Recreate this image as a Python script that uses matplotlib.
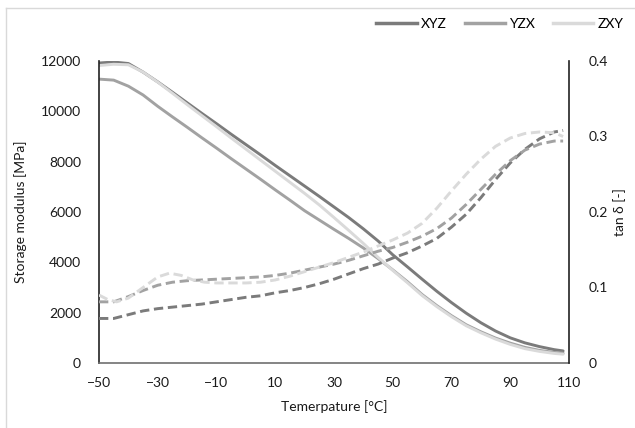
import matplotlib
matplotlib.use("Agg")
import matplotlib.pyplot as plt
from matplotlib.lines import Line2D

plt.rcParams['font.family'] = ['Lato', 'DejaVu Sans']

# Temperature grid [°C]
temp = [-50, -45, -40, -35, -30, -25, -20, -15, -10, -5, 0, 5, 10, 15, 20, 25, 30,
        35, 40, 45, 50, 55, 60, 65, 70, 75, 80, 85, 90, 95, 100, 105, 108]

# Storage modulus [MPa]
e_xyz = [11920, 11960, 11900, 11560, 11170, 10760, 10340, 9920, 9510, 9090, 8680, 8270,
         7850, 7440, 7030, 6620, 6200, 5780, 5330, 4850, 4300, 3820, 3330, 2850, 2400,
         1980, 1600, 1270, 1000, 800, 650, 530, 480]
e_yzx = [11280, 11240, 11000, 10650, 10200, 9780, 9370, 8950, 8540, 8120, 7710, 7300,
         6880, 6470, 6050, 5680, 5310, 4950, 4570, 4150, 3700, 3230, 2720, 2280, 1880,
         1520, 1240, 990, 790, 620, 500, 420, 390]
e_zxy = [11820, 11870, 11850, 11560, 11160, 10720, 10270, 9830, 9390, 8940, 8500, 8060,
         7620, 7180, 6740, 6280, 5780, 5270, 4750, 4200, 3680, 3190, 2680, 2240, 1840,
         1480, 1200, 950, 740, 570, 460, 380, 350]

# tan delta [-]
tan_xyz = [0.059, 0.059, 0.064, 0.069, 0.072, 0.074, 0.076, 0.078, 0.081, 0.084, 0.087,
           0.089, 0.093, 0.096, 0.100, 0.105, 0.111, 0.118, 0.125, 0.131, 0.139, 0.146,
           0.155, 0.165, 0.180, 0.197, 0.219, 0.243, 0.265, 0.283, 0.297, 0.306, 0.308]
tan_yzx = [0.081, 0.081, 0.088, 0.096, 0.103, 0.107, 0.109, 0.110, 0.111, 0.112, 0.113,
           0.114, 0.116, 0.119, 0.123, 0.127, 0.131, 0.136, 0.142, 0.148, 0.153, 0.160,
           0.168, 0.178, 0.192, 0.210, 0.230, 0.250, 0.268, 0.282, 0.290, 0.294, 0.294]
temp_zxy_tan = [-50, -47, -44, -40, -35, -30, -26, -22, -18, -14, -10, -5, 0, 5, 10, 15,
                20, 25, 30, 35, 40, 45, 50, 55, 60, 65, 70, 75, 80, 85, 90, 95, 100, 105, 108]
tan_zxy = [0.090, 0.084, 0.081, 0.086, 0.100, 0.114, 0.119, 0.116, 0.110, 0.107, 0.106,
           0.106, 0.106, 0.107, 0.110, 0.115, 0.121, 0.127, 0.133, 0.140, 0.147, 0.155,
           0.163, 0.172, 0.185, 0.205, 0.228, 0.250, 0.270, 0.287, 0.298, 0.304, 0.306,
           0.305, 0.300]

labels = ['XYZ', 'YZX', 'ZXY']
colors = ['#7b7b7b', '#a2a2a2', '#dadada']

fig = plt.figure(figsize=(6.35, 4.28), dpi=100)
ax = fig.add_axes([99/635, 1-363/428, 470/635, 302/428])
ax2 = ax.twinx()

lw = 2.1
for y, c, l in zip([e_xyz, e_yzx, e_zxy], colors, labels):
    ax.plot(temp, y, color=c, lw=lw, label=l, solid_capstyle='round',
            solid_joinstyle='round')
dash = (0, (3.2, 1.6))
ax2.plot(temp, tan_xyz, color=colors[0], lw=lw, ls=dash)
ax2.plot(temp, tan_yzx, color=colors[1], lw=lw, ls=dash)
ax2.plot(temp_zxy_tan, tan_zxy, color=colors[2], lw=lw, ls=dash)

ax.set_xlim(-50, 110)
ax.set_ylim(0, 12000)
ax2.set_ylim(0, 0.4)
ax.set_xticks(range(-50, 111, 20))
ax.set_yticks(range(0, 12001, 2000))
ax2.set_yticks([0, 0.1, 0.2, 0.3, 0.4])
ax2.set_yticklabels(['0', '0.1', '0.2', '0.3', '0.4'])

for a in (ax, ax2):
    a.tick_params(length=0, labelsize=10, colors='#1a1a1a')
    a.spines['top'].set_visible(False)
ax.tick_params(axis='y', pad=13)
ax.tick_params(axis='x', pad=10)
ax2.tick_params(axis='y', pad=14)
ax.spines['left'].set_color('#222222')
ax.spines['bottom'].set_color('#707070')
ax2.spines['right'].set_color('#222222')
ax2.spines['left'].set_visible(False)
ax2.spines['bottom'].set_visible(False)
for s in ('left', 'bottom'):
    ax.spines[s].set_linewidth(1.2)
ax2.spines['right'].set_linewidth(1.2)
ax.spines['right'].set_visible(False)

ax.set_xlabel('Temerpature [°C]', fontsize=10, color='#1a1a1a', labelpad=8)
ax.set_ylabel('Storage modulus [MPa]', fontsize=10, color='#1a1a1a', labelpad=10)
ax2.set_ylabel('tan δ [-]', fontsize=10, color='#1a1a1a', labelpad=4)

handles = [Line2D([], [], color=c, lw=2.5) for c in colors]
fig.legend(handles, labels, loc='center', bbox_to_anchor=(500/635, 1-24/428), ncol=3,
           frameon=False, fontsize=10, handlelength=2.9, handletextpad=0.3,
           columnspacing=1.3, borderpad=0.2)

# figure border (light gray frame, left and top visible)
fig.add_artist(Line2D([6/635, 6/635], [0, 1-8/428], color='#d9d9d9', lw=1, transform=fig.transFigure))
fig.add_artist(Line2D([6/635, 1], [1-8/428, 1-8/428], color='#d9d9d9', lw=1, transform=fig.transFigure))

fig.savefig('out.png', dpi=100)
